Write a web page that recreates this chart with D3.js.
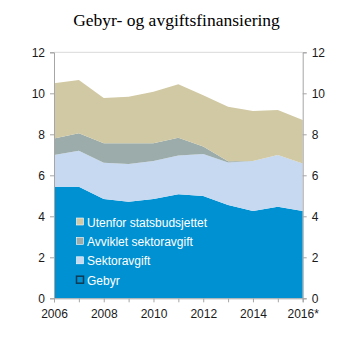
<!DOCTYPE html>
<html><head><meta charset="utf-8">
<script src="https://cdn.jsdelivr.net/npm/d3@7"></script>
<style>body{margin:0;background:#fff}svg{display:block}</style>
</head><body>
<script>
const years = [2006,2007,2008,2009,2010,2011,2012,2013,2014,2015,2016];
const xTickLabels = ["2006","2008","2010","2012","2014","2016*"];
const yTicks = [0,2,4,6,8,10,12];
const seriesNames = ["Gebyr","Sektoravgift","Avviklet sektoravgift","Utenfor statsbudsjettet"];
const gebyr = [5.44,5.44,4.84,4.71,4.84,5.07,4.99,4.55,4.26,4.47,4.26];
const sektoravgift = [1.55,1.76,1.77,1.84,1.86,1.89,2.05,2.08,2.44,2.52,2.32];
const avviklet = [0.81,0.85,0.95,1.01,0.86,0.87,0.36,0.05,0,0,0];
const utenfor = [2.69,2.60,2.21,2.27,2.52,2.61,2.51,2.67,2.44,2.20,2.12];
const colors = ["#0091d2","#c6d9f0","#9cacaa","#d1c9a3"];

const W=353,H=353, L=54, R=302.7, T=52.3, B=298.3;
const svg=d3.select("body").append("svg").attr("width",W).attr("height",H);
const x=d3.scaleLinear().domain([2006,2016]).range([L,R]);
const y=d3.scaleLinear().domain([0,12]).range([B,T]);

const table = years.map((yr,i)=>({year:yr,"Gebyr":gebyr[i],"Sektoravgift":sektoravgift[i],"Avviklet sektoravgift":avviklet[i],"Utenfor statsbudsjettet":utenfor[i]}));
const stacked=d3.stack().keys(seriesNames)(table);
const area=d3.area().x(d=>x(d.data.year)).y0(d=>y(d[0])).y1(d=>y(d[1]));
svg.append("g").selectAll("path").data(stacked).join("path")
  .attr("d",area).attr("fill",(d,i)=>colors[i]);

// title
svg.append("text").attr("x",176.5).attr("y",26).attr("text-anchor","middle")
  .attr("font-family","Liberation Serif, Times New Roman, serif").attr("font-size",17.5).attr("fill","#000")
  .text("Gebyr- og avgiftsfinansiering");

const axisColor="#a6a6a6", font="Liberation Sans, Arial, sans-serif";
svg.append("line").attr("x1",L).attr("x2",R).attr("y1",T).attr("y2",T).attr("stroke","#d9d9d9");
const ga=svg.append("g").attr("transform",`translate(${L},0)`).call(d3.axisLeft(y).tickValues(yTicks).tickSize(4).tickPadding(5).tickFormat(d3.format("d")));
const gr=svg.append("g").attr("transform",`translate(${R},0)`).call(d3.axisRight(y).tickValues(yTicks).tickSize(4).tickPadding(5).tickFormat(d3.format("d")));
const gx=svg.append("g").attr("transform",`translate(0,${B})`).call(d3.axisBottom(x).tickValues(years).tickSize(4).tickPadding(5)
   .tickFormat(d=>{const k=[2006,2008,2010,2012,2014,2016].indexOf(d);return k>=0?xTickLabels[k]:"";}));
[ga,gr,gx].forEach(g=>{
  g.selectAll("path,line").attr("stroke",axisColor);
  g.selectAll("text").attr("font-family",font).attr("font-size",12).attr("fill","#1a1a1a");
});
gx.selectAll("text").attr("dy","0.9em");

// legend
const leg=[...seriesNames].reverse();
const lg=svg.append("g");
leg.forEach((n,i)=>{
  const idx=seriesNames.indexOf(n);
  const yy=222+i*19.4;
  lg.append("rect").attr("x",76.5).attr("y",yy-4).attr("width",7).attr("height",7)
    .attr("fill",colors[idx]).attr("stroke",idx===0?"#0d3a52":"#ffffff").attr("stroke-width",idx===0?1.5:0.6);
  lg.append("text").attr("x",87).attr("y",yy+4.5).attr("font-family",font).attr("font-size",12)
    .attr("fill","#fff").text(n);
});
</script>
</body></html>
